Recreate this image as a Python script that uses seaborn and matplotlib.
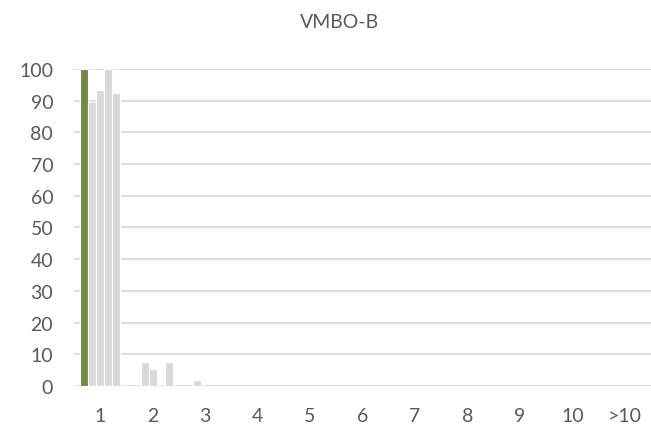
import pandas as pd
import numpy as np
import matplotlib
matplotlib.use("Agg")
import matplotlib.pyplot as plt
import seaborn as sns

categories = ["1", "2", "3", "4", "5", "6", "7", "8", "9", "10", ">10"]
series_names = ["school", "ref1", "ref2", "ref3", "ref4"]
school = [100, 0, 0, 0, 0, 0, 0, 0, 0, 0, 0]
ref1 = [89.7, 7.7, 1.9, 0, 0, 0, 0, 0, 0, 0, 0]
ref2 = [93.5, 5.4, 0, 0, 0, 0, 0, 0, 0, 0, 0]
ref3 = [100, 0, 0, 0, 0, 0, 0, 0, 0, 0, 0]
ref4 = [92.4, 7.5, 0, 0, 0, 0, 0, 0, 0, 0, 0]
yticks = [0, 10, 20, 30, 40, 50, 60, 70, 80, 90, 100]

df = pd.DataFrame({"categorie": categories, "school": school, "ref1": ref1,
                   "ref2": ref2, "ref3": ref3, "ref4": ref4})
long_df = df.melt(id_vars="categorie", var_name="reeks", value_name="waarde")

sns.set_style("white")
plt.rcParams["font.family"] = ["Lato", "DejaVu Sans"]
text_col = "#595959"
grid_col = "#D9D9D9"

fig = plt.figure(figsize=(6.51, 4.27), dpi=100)
ax = fig.add_axes([0.1137, 0.0937, 0.8863, 0.7424])

palette = {"school": "#77933C", "ref1": "#D9D9D9", "ref2": "#D9D9D9",
           "ref3": "#D9D9D9", "ref4": "#D9D9D9"}
sns.barplot(data=long_df, x="categorie", y="waarde", hue="reeks",
            hue_order=series_names, order=categories, palette=palette,
            width=0.76, edgecolor="white", linewidth=0.8, legend=False,
            zorder=3, ax=ax)

ax.set_ylim(0, 100)
ax.set_xlim(-0.5, len(categories) - 0.5)
ax.set_yticks(yticks)
ax.set_yticklabels([str(t) for t in yticks])
for y in yticks:
    ax.axhline(y, color=grid_col, lw=1.2, zorder=1)
for s in ax.spines.values():
    s.set_visible(False)
ax.tick_params(axis="y", length=0, pad=15, labelsize=14, labelcolor=text_col)
ax.tick_params(axis="x", length=0, pad=15, labelsize=14, labelcolor=text_col)
ax.set_xlabel("")
ax.set_ylabel("")
fig.text(0.522, 0.948, "VMBO-B", ha="center", va="center",
         fontsize=14, color=text_col)

fig.savefig("out.png", dpi=100)
